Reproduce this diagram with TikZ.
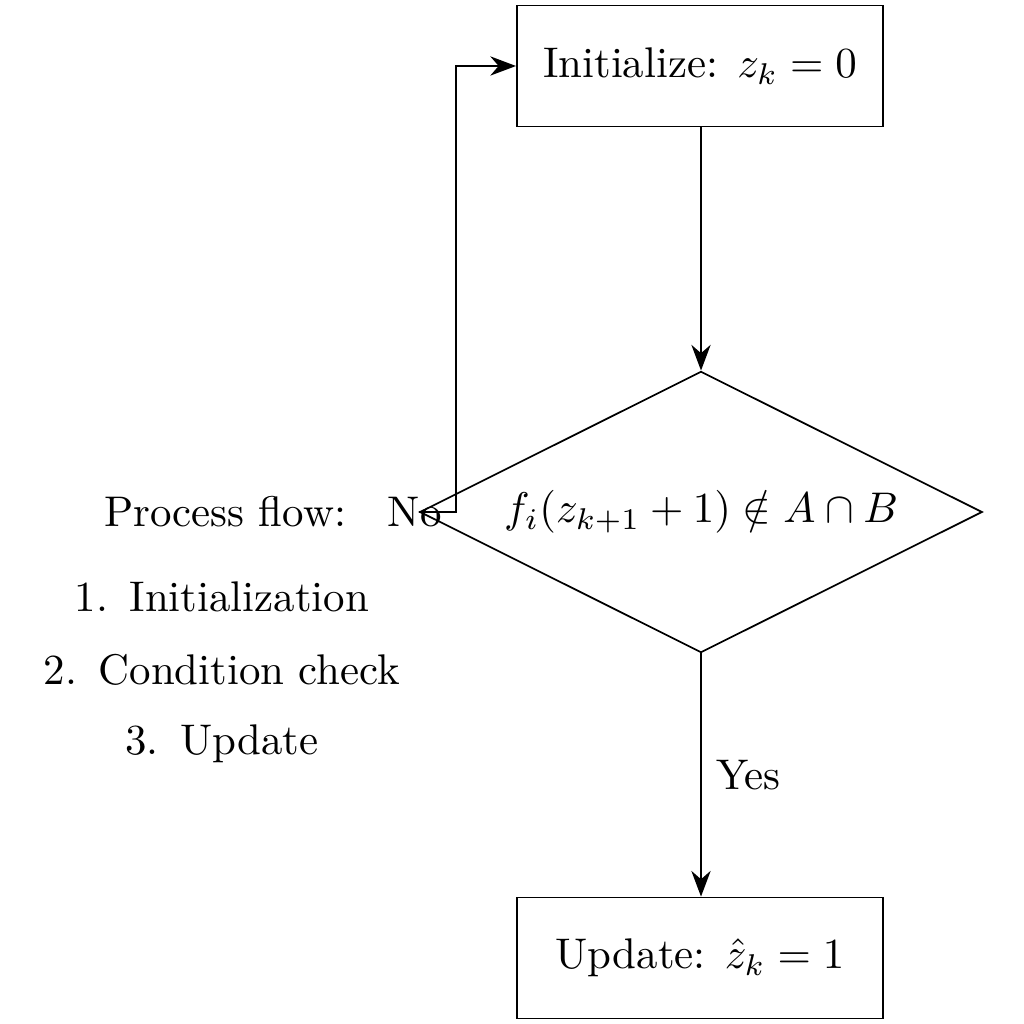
\documentclass[tikz,border=0pt]{standalone}
\usetikzlibrary{shapes.geometric,arrows.meta}
\begin{document}
\begin{tikzpicture}[x=0.0082cm,y=-0.0082cm,
  boxnode/.style={draw,rectangle,minimum width=3.0012cm,minimum height=0.9922cm,inner sep=0pt},
  decnode/.style={draw,diamond,aspect=2,minimum width=4.6084cm,minimum height=2.3042cm,inner sep=0pt},
  txt/.style={inner sep=0pt},
  arr/.style={-{Stealth[length=6pt,width=4.5pt]}}]
\useasboundingbox (0,0) rectangle (1024,1024);
\node[boxnode] (init) at (700,66) {Initialize: $z_k = 0$};
\node[decnode] (dec) at (701,512) {$f_i(z_{k+1}+1) \notin A \cap B$};
\node[boxnode] (upd) at (700,958) {Update: $\hat{z}_k = 1$};
\node[txt] (pf) at (225,512) {Process flow:};
\node[txt] (i1) at (222,597) {1.\enskip Initialization};
\node[txt] (i2) at (222,670) {2.\enskip Condition check};
\node[txt] (i3) at (222,744) {3.\enskip Update};
\draw[arr] (init.south -| dec.north) -- (dec.north);
\draw[arr] (dec.south) -- node[right] {Yes} (dec.south |- upd.north);
\draw[arr] (dec.west) node[xshift=-1pt] {No} -- ++(37,0) |- (init.west);
\end{tikzpicture}
\end{document}
